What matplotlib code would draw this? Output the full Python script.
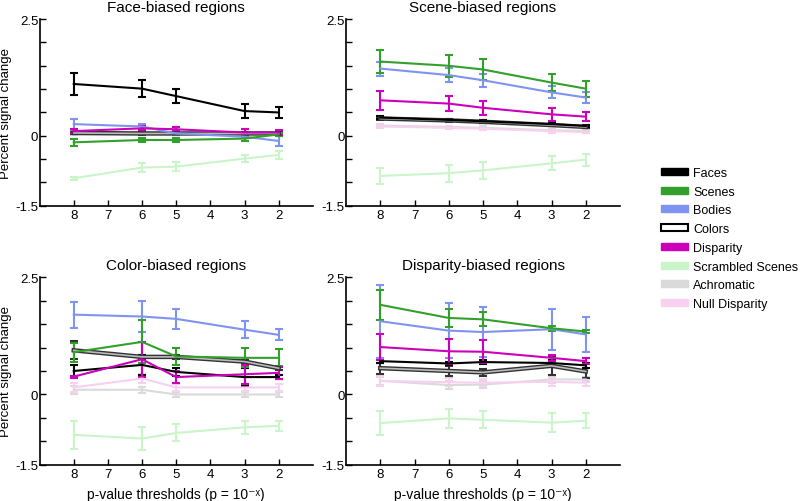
import numpy as np
import matplotlib
matplotlib.use("Agg")
import matplotlib.pyplot as plt
from matplotlib.patches import Patch

plt.rcParams['font.family'] = ['Liberation Sans', 'DejaVu Sans']

thresholds = [8, 6, 5, 3, 2]
series_names = ["Faces", "Scenes", "Bodies", "Colors", "Disparity",
                "Scrambled Scenes", "Achromatic", "Null Disparity"]
panel_titles = ["Face-biased regions", "Scene-biased regions",
                "Color-biased regions", "Disparity-biased regions"]

# Face-biased regions: (mean, error)
face_faces = [1.11, 1.01, 0.85, 0.53, 0.50]
face_faces_err = [0.23, 0.18, 0.15, 0.15, 0.12]
face_scenes = [-0.14, -0.09, -0.09, -0.06, 0.03]
face_scenes_err = [0.08, 0.05, 0.05, 0.05, 0.03]
face_bodies = [0.25, 0.20, 0.05, -0.02, -0.11]
face_bodies_err = [0.12, 0.05, 0.03, 0.03, 0.10]
face_colors = [0.06, 0.05, 0.05, 0.05, 0.05]
face_colors_err = [0.03, 0.03, 0.03, 0.03, 0.03]
face_disp = [0.10, 0.16, 0.14, 0.07, 0.07]
face_disp_err = [0.05, 0.04, 0.04, 0.07, 0.06]
face_scr = [-0.91, -0.68, -0.66, -0.49, -0.41]
face_scr_err = [0.03, 0.10, 0.10, 0.07, 0.09]
face_achr = [0.05, 0.05, 0.04, 0.04, 0.04]
face_achr_err = [0.02, 0.02, 0.02, 0.02, 0.02]
face_null = [0.03, 0.03, 0.03, 0.03, 0.03]
face_null_err = [0.02, 0.02, 0.02, 0.02, 0.02]

# Scene-biased regions
scene_faces = [0.39, 0.34, 0.31, 0.25, 0.21]
scene_faces_err = [0.04, 0.03, 0.03, 0.03, 0.03]
scene_scenes = [1.59, 1.50, 1.42, 1.14, 1.01]
scene_scenes_err = [0.24, 0.23, 0.22, 0.19, 0.17]
scene_bodies = [1.44, 1.30, 1.19, 0.93, 0.82]
scene_bodies_err = [0.15, 0.15, 0.14, 0.13, 0.12]
scene_colors = [0.37, 0.33, 0.30, 0.23, 0.19]
scene_colors_err = [0.04, 0.03, 0.03, 0.03, 0.03]
scene_disp = [0.76, 0.69, 0.60, 0.46, 0.41]
scene_disp_err = [0.20, 0.16, 0.15, 0.14, 0.10]
scene_scr = [-0.86, -0.80, -0.74, -0.59, -0.51]
scene_scr_err = [0.17, 0.18, 0.18, 0.15, 0.13]
scene_achr = [0.22, 0.19, 0.17, 0.12, 0.10]
scene_achr_err = [0.03, 0.03, 0.03, 0.03, 0.03]
scene_null = [0.20, 0.17, 0.15, 0.10, 0.08]
scene_null_err = [0.04, 0.03, 0.03, 0.03, 0.03]

# Color-biased regions
color_faces = [0.50, 0.63, 0.48, 0.37, 0.37]
color_faces_err = [0.12, 0.22, 0.08, 0.19, 0.05]
color_scenes = [0.90, 1.12, 0.81, 0.78, 0.78]
color_scenes_err = [0.20, 0.46, 0.18, 0.20, 0.18]
color_bodies = [1.70, 1.66, 1.61, 1.38, 1.27]
color_bodies_err = [0.28, 0.34, 0.21, 0.18, 0.12]
color_colors = [0.94, 0.80, 0.80, 0.70, 0.56]
color_colors_err = [0.19, 0.04, 0.04, 0.04, 0.03]
color_disp = [0.38, 0.75, 0.37, 0.43, 0.46]
color_disp_err = [0.02, 0.37, 0.13, 0.20, 0.13]
color_scr = [-0.86, -0.94, -0.82, -0.70, -0.67]
color_scr_err = [0.30, 0.25, 0.18, 0.14, 0.11]
color_achr = [0.10, 0.10, 0.00, 0.00, 0.00]
color_achr_err = [0.08, 0.06, 0.05, 0.05, 0.05]
color_null = [0.15, 0.34, 0.15, 0.15, 0.15]
color_null_err = [0.10, 0.10, 0.07, 0.07, 0.07]

# Disparity-biased regions
disp_faces = [0.71, 0.66, 0.69, 0.67, 0.62]
disp_faces_err = [0.05, 0.04, 0.05, 0.06, 0.05]
disp_scenes = [1.91, 1.63, 1.60, 1.41, 1.34]
disp_scenes_err = [0.32, 0.20, 0.15, 0.05, 0.04]
disp_bodies = [1.56, 1.36, 1.33, 1.39, 1.28]
disp_bodies_err = [0.78, 0.58, 0.54, 0.44, 0.37]
disp_colors = [0.56, 0.50, 0.47, 0.61, 0.49]
disp_colors_err = [0.12, 0.10, 0.08, 0.20, 0.15]
disp_disp = [1.01, 0.92, 0.91, 0.78, 0.71]
disp_disp_err = [0.28, 0.27, 0.24, 0.06, 0.06]
disp_scr = [-0.61, -0.51, -0.54, -0.60, -0.56]
disp_scr_err = [0.25, 0.20, 0.18, 0.20, 0.16]
disp_achr = [0.29, 0.20, 0.21, 0.32, 0.32]
disp_achr_err = [0.08, 0.08, 0.08, 0.08, 0.06]
disp_null = [0.29, 0.26, 0.25, 0.27, 0.25]
disp_null_err = [0.10, 0.08, 0.08, 0.08, 0.06]

panels = [
    [face_faces, face_scenes, face_bodies, face_colors, face_disp, face_scr, face_achr, face_null],
    [scene_faces, scene_scenes, scene_bodies, scene_colors, scene_disp, scene_scr, scene_achr, scene_null],
    [color_faces, color_scenes, color_bodies, color_colors, color_disp, color_scr, color_achr, color_null],
    [disp_faces, disp_scenes, disp_bodies, disp_colors, disp_disp, disp_scr, disp_achr, disp_null],
]
panel_errs = [
    [face_faces_err, face_scenes_err, face_bodies_err, face_colors_err, face_disp_err, face_scr_err, face_achr_err, face_null_err],
    [scene_faces_err, scene_scenes_err, scene_bodies_err, scene_colors_err, scene_disp_err, scene_scr_err, scene_achr_err, scene_null_err],
    [color_faces_err, color_scenes_err, color_bodies_err, color_colors_err, color_disp_err, color_scr_err, color_achr_err, color_null_err],
    [disp_faces_err, disp_scenes_err, disp_bodies_err, disp_colors_err, disp_disp_err, disp_scr_err, disp_achr_err, disp_null_err],
]

colors = {"Faces": "#000000", "Scenes": "#33a02c", "Bodies": "#7f93f0",
          "Colors": "#555555", "Disparity": "#cc00bb",
          "Scrambled Scenes": "#c9f5c9", "Achromatic": "#dadada",
          "Null Disparity": "#f8d0f0"}
draw_order = ["Scrambled Scenes", "Achromatic", "Null Disparity", "Colors",
              "Faces", "Bodies", "Scenes", "Disparity"]

fig = plt.figure(figsize=(8, 5.02), dpi=100)
positions = [
    [0.0495, 0.588, 0.3415, 0.372],
    [0.4325, 0.588, 0.3425, 0.372],
    [0.0495, 0.072, 0.3415, 0.374],
    [0.4325, 0.072, 0.3425, 0.374],
]

yticks = np.arange(-1.5, 2.51, 0.5)
ylabels = ["-1.5", "", "", "0", "", "", "", "", "2.5"]
xticks = [8, 7, 6, 5, 4, 3, 2]

for p in range(4):
    ax = fig.add_axes(positions[p])
    for name in draw_order:
        i = series_names.index(name)
        y = panels[p][i]
        e = panel_errs[p][i]
        if name == "Colors":
            ax.errorbar(thresholds, y, yerr=e, color="#333333", lw=3.2,
                        capsize=3, elinewidth=1.5, capthick=1.5, zorder=3)
            ax.plot(thresholds, y, color="#bbbbbb", lw=1.2, zorder=3.1)
        else:
            ax.errorbar(thresholds, y, yerr=e, color=colors[name], lw=1.5,
                        capsize=3, elinewidth=1.5, capthick=1.5, zorder=3)
    ax.set_xlim(9, 1)
    ax.set_ylim(-1.5, 2.5)
    ax.set_yticks(yticks)
    ax.set_yticklabels(ylabels)
    ax.set_xticks(xticks)
    ax.set_xticklabels([str(t) for t in xticks])
    ax.spines["top"].set_visible(False)
    ax.spines["right"].set_visible(False)
    ax.spines["left"].set_linewidth(1.2)
    ax.spines["bottom"].set_linewidth(1.2)
    ax.tick_params(direction="in", length=4, width=1, labelsize=9.5, pad=2)
    ax.tick_params(axis="y", pad=1)
    ax.set_title(panel_titles[p], fontsize=11, pad=6)
    if p in (0, 2):
        ax.set_ylabel("Percent signal change", fontsize=9.5)
        ax.yaxis.set_label_coords(-0.100, 0.5)
    if p in (2, 3):
        ax.set_xlabel("p-value thresholds (p = 10\u207b\u02e3)", fontsize=10)
        ax.xaxis.set_label_coords(0.5, -0.120)

handles = []
for name in series_names:
    if name == "Colors":
        handles.append(Patch(facecolor="white", edgecolor="black", lw=1.5, label=name))
    else:
        handles.append(Patch(facecolor=colors[name], edgecolor=colors[name], label=name))
fig.legend(handles=handles, loc="upper left", bbox_to_anchor=(0.8125, 0.688),
           frameon=False, fontsize=9, handlelength=2.15, handleheight=0.5,
           labelspacing=0.54, handletextpad=0.4)

fig.savefig("out.png", dpi=100)
